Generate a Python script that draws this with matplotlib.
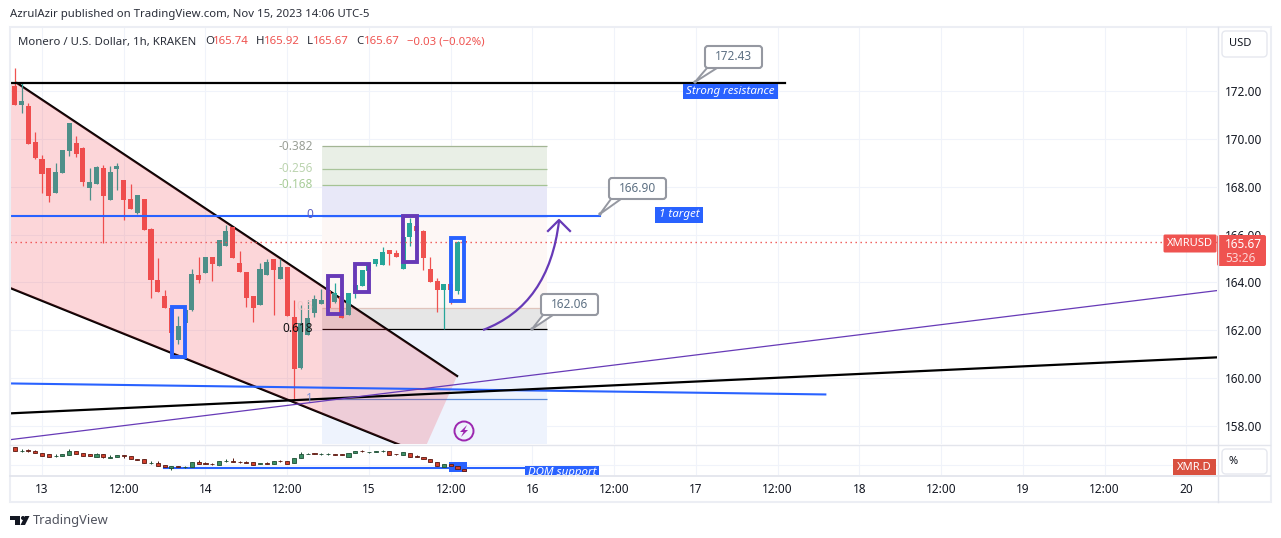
import matplotlib
matplotlib.use("Agg")
import matplotlib.pyplot as plt
from matplotlib.patches import FancyBboxPatch, Rectangle, Polygon, Circle, PathPatch
from matplotlib.path import Path

plt.rcParams['font.family'] = ['Noto Sans', 'DejaVu Sans']

# ---------- price candles (hour offset from Nov 13 00:00) ----------
hours = list(range(-5, 63))
opens = [171.30,
         172.21,171.42,171.37,169.87,169.16,168.78,167.75,168.59,169.50,169.81,169.62,167.95,168.11,168.78,167.45,168.74,
         168.28,167.48,166.90,167.49,166.23,164.10,163.43,162.92,161.60,162.30,162.85,164.31,164.41,165.08,164.70,165.52,
         166.33,164.80,164.44,163.43,163.06,164.31,164.98,164.14,164.65,162.56,160.42,161.80,162.72,163.10,163.65,163.18,
         163.40,162.64,163.60,163.85,164.48,164.77,164.73,165.36,165.23,164.56,165.90,166.36,166.15,164.56,164.06,163.68,
         163.94,163.64,165.74]
closes = [172.33,
          171.42,171.58,169.79,169.21,168.53,167.63,168.62,169.53,170.66,169.38,168.21,168.20,168.82,167.63,168.62,168.87,
          167.45,167.07,167.65,166.19,164.10,163.61,162.95,161.90,162.18,162.85,164.35,164.10,165.08,164.77,165.77,166.15,
          165.02,164.44,163.35,162.93,164.55,164.85,164.52,164.65,162.60,160.38,162.31,162.51,163.31,163.27,162.95,163.55,
          162.52,163.56,163.90,164.52,164.77,164.98,165.27,165.19,165.06,165.90,166.48,166.15,165.02,164.02,163.68,163.94,
          163.68,165.69,165.67]
highs = [172.33,
         172.95,172.35,171.51,170.29,169.33,168.78,168.99,169.53,170.66,170.12,169.65,168.78,168.87,168.90,168.87,168.99,
         168.28,168.11,167.65,167.49,166.27,165.00,163.68,162.92,162.60,162.85,164.55,165.08,165.08,165.08,165.77,166.40,
         166.33,165.31,164.44,163.43,164.80,164.98,164.98,164.98,164.65,163.27,163.06,163.27,163.48,163.72,163.65,163.96,
         163.40,163.56,163.90,164.52,164.77,164.98,165.48,165.36,165.36,165.90,166.69,166.36,166.20,165.06,164.19,163.94,
         163.94,165.73,165.92]
lows = [171.30,
        171.42,171.09,169.79,169.16,167.75,167.38,167.75,168.59,169.30,169.26,168.03,167.46,168.11,165.66,167.45,167.86,
        166.61,167.07,166.88,166.19,163.35,163.61,162.95,161.60,161.43,162.30,162.82,163.99,164.41,164.07,164.70,165.52,
        165.02,164.44,162.98,162.35,163.06,164.31,162.64,164.14,162.60,159.13,160.38,161.80,162.57,163.10,162.95,163.13,
        162.52,162.64,163.35,163.85,164.48,164.69,164.73,164.73,165.06,164.56,165.52,166.15,164.52,164.02,162.77,162.04,
        163.10,163.52,165.67]

# ---------- XMR.D sub-pane candles (height in pane) ----------
d_time = list(range(-4, 63))
d_open = [27.7,23.8,24.9,23.7,21.7,20.7,19.2,18.7,20.3,23.7,21.7,20.7,18.3,20.7,17.0,17.7,
          20.0,18.7,15.9,15.7,11.9,12.0,9.7,7.3,8.7,7.9,8.3,13.0,11.8,11.5,10.3,13.9,
          13.8,13.5,12.8,12.7,11.5,11.8,10.7,14.5,13.7,11.7,16.7,21.2,22.0,20.9,20.9,20.8,
          20.8,18.3,21.7,24.2,22.9,22.7,24.2,23.7,21.2,20.3,22.3,19.3,17.7,15.7,12.7,8.3,10.7,8.7,5.7]
d_close = [23.7,24.2,24.5,22.3,19.3,17.7,19.5,20.7,23.7,21.3,19.3,18.7,20.7,17.7,18.3,19.7,
           18.7,15.7,15.5,11.7,12.2,9.3,8.0,8.7,7.7,8.2,12.7,11.3,11.5,11.2,13.7,14.2,
           13.5,13.2,12.5,10.3,11.8,11.5,14.3,14.2,11.3,16.7,21.0,21.5,20.7,21.2,21.2,20.5,
           20.5,21.7,24.0,23.9,23.2,23.7,24.5,20.3,20.9,22.7,18.3,18.0,15.7,12.7,8.7,10.7,9.0,5.7,4.3]
d_high = [27.7,26.0,26.0,25.0,21.7,20.7,20.7,20.7,25.7,23.7,21.7,20.7,21.7,20.7,20.0,19.7,
          20.0,18.7,16.3,15.7,14.3,14.0,9.7,8.7,8.7,9.0,12.7,14.7,12.7,12.3,13.7,16.0,
          17.0,14.3,13.7,12.7,12.5,12.7,14.3,15.3,13.7,16.7,22.7,21.7,22.0,21.7,21.7,21.3,
          20.8,21.7,24.0,25.0,23.5,23.7,25.3,23.7,21.2,22.7,22.3,20.3,17.7,15.7,12.7,10.7,10.7,8.7,5.7]
d_low = [23.7,23.3,23.0,22.3,19.3,17.7,18.3,18.7,20.3,21.3,19.3,18.7,18.3,16.7,17.0,17.7,
         17.0,15.7,15.0,11.7,11.3,9.3,8.0,5.0,7.7,7.0,8.3,11.3,10.7,10.0,10.3,13.3,
         13.3,12.3,11.7,10.3,10.8,10.7,10.7,13.3,11.3,11.7,16.7,20.7,20.7,20.5,20.5,20.0,
         19.7,18.3,21.7,23.5,22.5,22.7,23.3,20.3,20.0,20.3,18.3,18.0,15.7,12.7,8.7,8.3,9.0,5.7,4.3]

# ---------- chart scales and levels ----------
price_ticks = [158, 160, 162, 164, 166, 168, 170, 172]
time_ticks = [0, 12, 24, 36, 48, 60, 72, 84, 96, 108, 120, 132, 144, 156, 168]
time_labels = ['13', '12:00', '14', '12:00', '15', '12:00', '16', '12:00', '17', '12:00', '18', '12:00', '19', '12:00', '20']
last_price = 165.67

fib_prices = [169.70, 168.74, 168.06, 166.78, 162.95, 162.05, 159.13, 157.25]
fib_names = ['-0.382', '-0.256', '-0.168', '0', '0.5', '0.618', '1']
fib_t = [41.1, 74.1]

resist_t, resist_p = [-4.7, 109.1], [172.33, 172.33]
upper_t, upper_p = [-3.67, 60.94], [172.33, 160.09]
lower_t, lower_p = [-4.7, 60.94], [163.77, 156.25]
pink_t = [-4.7, -3.67, 60.94, 56.5, 52.13, -4.7]
pink_p = [172.33, 172.33, 160.09, 157.25, 157.25, 163.77]
target_t, target_p = [-4.7, 81.9], [166.78, 166.78]
blue2_t, blue2_p = [-4.7, 115.0], [159.78, 159.32]
black2_t, black2_p = [-4.7, 172.5], [158.53, 160.87]
purple_t, purple_p = [-4.7, 172.5], [157.43, 163.66]

W, H = 1281, 538
fig = plt.figure(figsize=(W / 100, H / 100), dpi=100, facecolor='white')

def pane(x0, y0, x1, y1, **kw):
    return fig.add_axes([x0 / W, 1 - y1 / H, (x1 - x0) / W, (y1 - y0) / H], **kw)

TXT = '#131722'
GRID = '#f0f3fa'
UP, DOWN = '#26a69a', '#ef5350'

# ---------- main pane ----------
ax = pane(10, 28, 1217, 444)
ax.set_xlim(-4.7, 172.5)
ax.set_ylim(157.25, 174.63)
ax.set_yticks(price_ticks, [f'{v:.2f}' for v in price_ticks])
ax.yaxis.tick_right()
ax.set_xticks(time_ticks)
ax.tick_params(axis='y', length=0, pad=6, labelsize=8.5, labelcolor=TXT)
ax.tick_params(axis='x', length=0, labelbottom=False)
ax.grid(True, color=GRID, lw=0.8)
ax.set_axisbelow(True)
for s in ax.spines.values():
    s.set_visible(False)

fib_cols = ['#e9efe6', '#e9efe6', '#e8e8f8', '#fdf7f5', '#e6e6e6', '#eef3fd', '#eef3fd']
for i, c in enumerate(fib_cols):
    ax.fill_between(fib_t, fib_prices[i + 1], fib_prices[i], color=c, lw=0, zorder=1)
fib_line = ['#a3b594', '#a9c49a', '#a5c394', '#2962ff', '#e0c4bc', '#000000', '#5b8bd8']
for p, c in zip(fib_prices[:-1], fib_line):
    ax.plot(fib_t, [p, p], color=c, lw=0.9, zorder=1.5, solid_capstyle='butt')

ax.plot(upper_t, upper_p, color='black', lw=1.6, zorder=2)
ax.plot(lower_t, lower_p, color='black', lw=1.6, zorder=2)

# candles
for t, o, c, h, l in zip(hours, opens, closes, highs, lows):
    col = UP if c >= o else DOWN
    ax.vlines(t, l, h, color=col, lw=0.9, zorder=3)
    ax.bar(t, abs(c - o), bottom=min(o, c), width=0.74, color=col, lw=0, zorder=3)

ax.axhline(last_price, color=DOWN, lw=1, ls=(0, (1, 2.6)), zorder=3.5)
ax.fill(pink_t, pink_p, color='#f23645', alpha=0.2, lw=0, zorder=4)

ax.plot(resist_t, resist_p, color='black', lw=1.6, zorder=5)
ax.plot(target_t, target_p, color='#2962ff', lw=1.5, zorder=5)
ax.plot(blue2_t, blue2_p, color='#2962ff', lw=1.5, zorder=5)
ax.plot(black2_t, black2_p, color='black', lw=1.6, zorder=5)
ax.plot(purple_t, purple_p, color='#673ab7', lw=0.9, zorder=5)

# ---------- sub pane ----------
sub = pane(10, 445, 1217, 475)
sub.set_xlim(-4.7, 172.5)
sub.set_ylim(0, 30)
sub.set_xticks(time_ticks, time_labels)
sub.set_yticks([10])
sub.tick_params(axis='x', length=0, pad=6, labelsize=8.5, labelcolor=TXT)
sub.tick_params(axis='y', length=0, labelleft=False)
sub.grid(True, color=GRID, lw=0.8)
sub.set_axisbelow(True)
for s in sub.spines.values():
    s.set_visible(False)
sub.plot([17.9, 71.5], [7, 7], color='#2962ff', lw=1.5, zorder=2)
sub.add_patch(Rectangle((59.8, 3), 2.6, 10, color='#2962ff', lw=0, zorder=2))
for t, o, c, h, l in zip(d_time, d_open, d_close, d_high, d_low):
    up = c >= o
    edge = '#1f4f35' if up else '#5a1a12'
    sub.vlines(t, l, h, color=edge, lw=0.7, zorder=3)
    sub.bar(t, abs(c - o), bottom=min(o, c), width=0.6,
            color='#3b8f64' if up else '#d23f2c', edgecolor=edge, lw=0.6, zorder=3)

# ---------- overlay in figure pixels: frames, drawings, text ----------
ov = fig.add_axes([0, 0, 1, 1], zorder=10)
ov.set_xlim(0, W)
ov.set_ylim(H, 0)
ov.axis('off')
ov.patch.set_alpha(0)

FR = '#eceef4'
ov.add_patch(Rectangle((10, 27), 1261, 475, fill=False, ec=FR, lw=1.5))
ov.plot([10, 1270], [444.5, 444.5], color='#e3e5ec', lw=1)
ov.plot([10, 1270], [475.5, 475.5], color='#e0e3eb', lw=1.2)
ov.plot([1217.5, 1217.5], [27, 502], color='#e0e3eb', lw=1)

# marker boxes
for (x0, y0, x1, y1, c) in [(172, 307, 185, 357, '#2962ff'), (328, 276, 342, 314, '#673ab7'),
                            (355, 264, 369, 292, '#673ab7'), (403, 216, 417, 262, '#673ab7'),
                            (451, 238, 464, 301, '#2962ff')]:
    ov.add_patch(Rectangle((x0, y0), x1 - x0, y1 - y0, fill=False, ec=c, lw=2.8, joinstyle='miter'))

# fib labels
for name, y, c in zip(fib_names, [146, 168, 185, 215, 307, 328, 398],
                      ['#9a9f96', '#bcd4b0', '#a8cc98', '#5c5fc0', '#f0c8c8', '#111111', '#7f93d8']):
    ov.text(313, y, name, color=c, fontsize=8.5, ha='right', va='center')

# purple arrow
ov.add_patch(PathPatch(Path([(483, 330), (549, 305), (559, 221)], [Path.MOVETO, Path.CURVE3, Path.CURVE3]),
                       fill=False, ec='#673ab7', lw=1.6))
ov.plot([548, 559, 570], [231, 220, 231], color='#673ab7', lw=1.6)

# callouts
for txt, x0, y0, x1, y1, tx, ty, bx in [('172.43', 705, 46, 762, 68, 695, 82, 712),
                                        ('166.90', 609, 178, 666, 199, 600, 214, 616),
                                        ('162.06', 541, 294, 598, 315, 532, 329, 548)]:
    ov.add_patch(Polygon([(bx - 5, y1), (tx, ty), (bx + 5, y1)], closed=True, fc='white', ec='#9598a1', lw=1.4, zorder=5))
    ov.add_patch(FancyBboxPatch((x0 + 3, y0 + 3), x1 - x0 - 6, y1 - y0 - 6, boxstyle='round,pad=3', fc='white',
                                ec='#9598a1', lw=1.5, zorder=6))
    ov.text((x0 + x1) / 2, (y0 + y1) / 2, txt, color='#5d7083', fontsize=8.5, ha='center', va='center', zorder=7)
    ov.add_patch(Circle((tx, ty), 1.7, fc='#9598a1', lw=0, zorder=7))

# blue labels
for txt, x0, y0, x1, y1 in [('Strong resistance', 683, 84, 778, 99), ('1 target', 655, 207, 703, 223)]:
    ov.add_patch(Rectangle((x0, y0), x1 - x0, y1 - y0, color='#2962ff', lw=0))
    ov.text((x0 + x1) / 2, (y0 + y1) / 2, txt, color='white', fontsize=8.3, style='italic', ha='center', va='center')
ov.add_patch(Rectangle((525, 466), 74, 9, color='#2962ff', lw=0))
dom = ov.text(562, 473, 'DOM support', color='white', fontsize=8.3, style='italic', ha='center', va='center')
dom.set_clip_path(Rectangle((525, 466), 74, 9, transform=ov.transData))

# lightning icon
ov.add_patch(Circle((464, 431), 9.5, fc='none', ec='#9c27b0', lw=1.4))
ov.add_patch(Polygon([(467, 425), (460, 432), (463.5, 432), (461, 437), (468, 430), (464.5, 430)], closed=True,
                     fc='#9c27b0', lw=0))

# scale buttons
for x0, y0, x1, y1, t, tx in [(1222, 31, 1267, 57, 'USD', 1240), (1222, 449, 1267, 474, '%', 1233)]:
    ov.add_patch(FancyBboxPatch((x0 + 4, y0 + 4), x1 - x0 - 8, y1 - y0 - 8, boxstyle='round,pad=4', fc='white',
                                ec='#e6e8ef', lw=1))
    ov.text(tx, (y0 + y1) / 2, t, color=TXT, fontsize=8, ha='center', va='center')

# price tags
ov.add_patch(FancyBboxPatch((1165, 236), 50, 15, boxstyle='round,pad=1.5', fc=DOWN, lw=0))
ov.text(1190, 244, 'XMRUSD', color='white', fontsize=8, fontweight='bold', ha='center', va='center')
ov.add_patch(FancyBboxPatch((1219, 237), 45, 27, boxstyle='round,pad=2', fc=DOWN, lw=0))
ov.text(1243, 244, '165.67', color='white', fontsize=8.5, fontweight='bold', ha='center', va='center')
ov.text(1240, 258, '53:26', color='#fdd5d5', fontsize=8.5, fontweight='bold', ha='center', va='center')
ov.add_patch(Rectangle((1173, 459), 43, 16, color='#d9503f', lw=0))
ov.text(1194, 467, 'XMR.D', color='white', fontsize=8, fontweight='bold', ha='center', va='center')

# header
ov.text(10, 15, 'AzrulAzir published on TradingView.com, Nov 15, 2023 14:06 UTC-5', color='#2a2e39', fontsize=8.2,
        ha='left', va='center')
ov.text(18, 42, 'Monero / U.S. Dollar, 1h, KRAKEN', color='#2a2e39', fontsize=8.2, ha='left', va='center')
for lab, val, x in [('O', '165.74', 205), ('H', '165.92', 256), ('L', '165.67', 307), ('C', '165.67', 356)]:
    t = ov.text(x, 42, lab, color='#2a2e39', fontsize=8.2, ha='left', va='center')
    ov.text(x + (8 if lab != 'L' else 6), 42, val, color=DOWN, fontsize=8.2, ha='left', va='center')
ov.text(407, 42, '\u22120.03 (\u22120.02%)', color=DOWN, fontsize=8.2, ha='left', va='center')

# footer logo
ov.add_patch(Polygon([(10, 516), (20, 516), (20, 525), (15, 525), (15, 520), (10, 520)], closed=True, fc='#131722', lw=0))
ov.add_patch(Circle((23, 518), 2, fc='#131722', lw=0))
ov.add_patch(Polygon([(25, 516), (29.5, 516), (25, 525), (20.5, 525)], closed=True, fc='#131722', lw=0))
ov.text(33, 520.5, 'TradingView', color='#50535e', fontsize=9.3, ha='left', va='center')

fig.savefig('out.png', dpi=100, facecolor='white')
